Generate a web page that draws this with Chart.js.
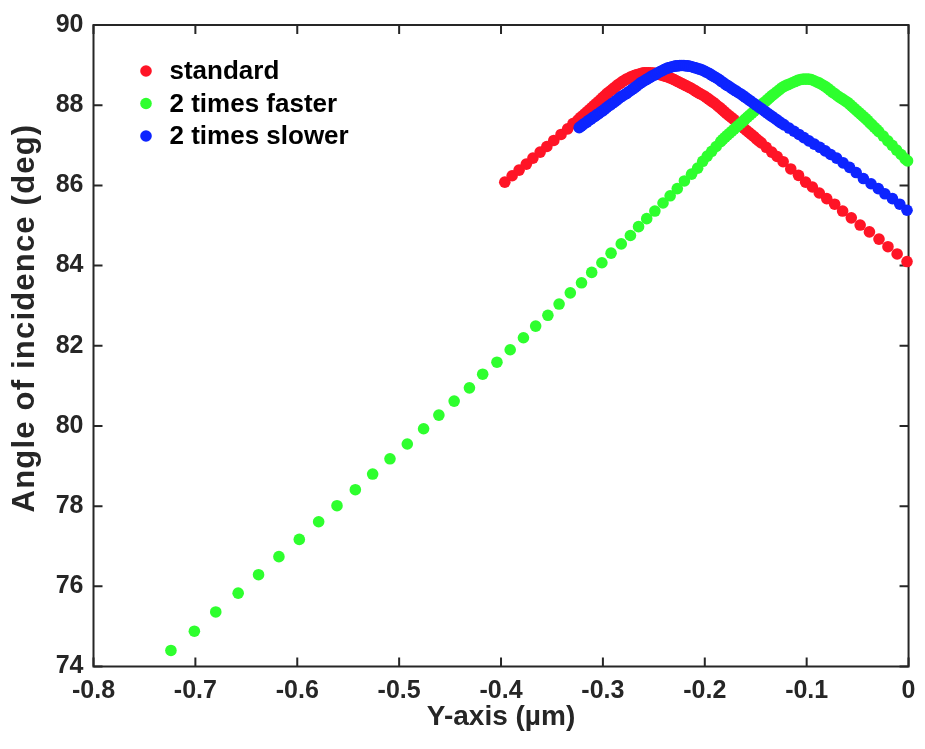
<!DOCTYPE html>
<html>
<head>
<meta charset="utf-8">
<title>Angle of incidence</title>
<script src="https://cdn.jsdelivr.net/npm/chart.js@4.4.1/dist/chart.umd.min.js"></script>
<style>
  html, body { margin: 0; padding: 0; background: #fff; }
  #wrap { width: 925px; height: 749px; }
</style>
</head>
<body>
<div id="wrap"><canvas id="angleChart" width="925" height="749"></canvas></div>
<script>
// axis ticks
const xTicks = [-0.8, -0.7, -0.6, -0.5, -0.4, -0.3, -0.2, -0.1, 0];
const yTicks = [74, 76, 78, 80, 82, 84, 86, 88, 90];

const seriesLabels = ['standard', '2 times faster', '2 times slower'];
const seriesColors = ['#ff1426', '#2eff2e', '#0d24ff'];

// standard
const standardX = [
  -0.3963, -0.3891, -0.3823, -0.3752, -0.3687, -0.3616, -0.3550, -0.3482, -0.3411, -0.3346,
  -0.3294, -0.3246, -0.3222, -0.3197, -0.3175, -0.3153, -0.3131, -0.3109, -0.3088, -0.3066,
  -0.3044, -0.3022, -0.3003, -0.2983, -0.2964, -0.2944, -0.2925, -0.2905, -0.2886, -0.2866,
  -0.2847, -0.2827, -0.2808, -0.2788, -0.2769, -0.2749, -0.2730, -0.2710, -0.2691, -0.2671,
  -0.2652, -0.2632, -0.2613, -0.2594, -0.2575, -0.2555, -0.2536, -0.2516, -0.2497, -0.2477,
  -0.2458, -0.2438, -0.2419, -0.2399, -0.2380, -0.2360, -0.2341, -0.2321, -0.2302, -0.2282,
  -0.2263, -0.2243, -0.2224, -0.2204, -0.2185, -0.2165, -0.2146, -0.2126, -0.2107, -0.2088,
  -0.2069, -0.2049, -0.2027, -0.2005, -0.1983, -0.1961, -0.1939, -0.1917, -0.1895, -0.1873,
  -0.1852, -0.1830, -0.1808, -0.1786, -0.1762, -0.1737, -0.1713, -0.1689, -0.1665, -0.1640,
  -0.1616, -0.1591, -0.1567, -0.1543, -0.1519, -0.1494, -0.1470, -0.1445,
  -0.1397, -0.1343, -0.1290, -0.1231, -0.1156,
  -0.1080, -0.1010, -0.0944, -0.0876, -0.0803, -0.0725, -0.0647, -0.0562, -0.0475,
  -0.0384, -0.0290, -0.0202, -0.0112, -0.0015
];
const standardY = [
  86.08, 86.24, 86.38, 86.53, 86.68, 86.83, 86.97, 87.12, 87.27, 87.41,
  87.54, 87.63, 87.69, 87.74, 87.79, 87.84, 87.89, 87.94, 87.99, 88.04,
  88.09, 88.14, 88.19, 88.23, 88.28, 88.32, 88.36, 88.40, 88.44, 88.48,
  88.52, 88.55, 88.59, 88.62, 88.65, 88.67, 88.70, 88.72, 88.74, 88.76,
  88.77, 88.78, 88.80, 88.81, 88.81, 88.81, 88.81, 88.80, 88.80, 88.79,
  88.78, 88.76, 88.75, 88.73, 88.72, 88.70, 88.68, 88.66, 88.64, 88.61,
  88.59, 88.56, 88.54, 88.51, 88.49, 88.46, 88.44, 88.41, 88.38, 88.35,
  88.32, 88.29, 88.26, 88.23, 88.19, 88.15, 88.11, 88.07, 88.03, 87.98,
  87.94, 87.89, 87.84, 87.79, 87.74, 87.69, 87.64, 87.58, 87.53, 87.48,
  87.43, 87.37, 87.32, 87.27, 87.22, 87.16, 87.11, 87.06,
  86.95, 86.83, 86.72, 86.59, 86.41,
  86.25, 86.08, 85.96, 85.81, 85.67, 85.53, 85.36, 85.19, 85.01,
  84.84, 84.66, 84.47, 84.29, 84.10
];

// 2 times faster
const fasterX = [
  -0.724, -0.701, -0.680, -0.658, -0.638, -0.618, -0.598, -0.579, -0.561, -0.543,
  -0.526, -0.509, -0.492, -0.476, -0.461, -0.446, -0.431, -0.418, -0.404, -0.391,
  -0.378, -0.366, -0.354, -0.343, -0.332, -0.321, -0.311, -0.301, -0.292, -0.282,
  -0.273, -0.265, -0.257, -0.249, -0.241, -0.234, -0.227, -0.220, -0.213, -0.207,
  -0.202, -0.1976, -0.1932, -0.1888,
  -0.1844, -0.1822, -0.1800, -0.1779, -0.1757, -0.1735, -0.1713, -0.1691, -0.1669, -0.1647,
  -0.1625, -0.1604, -0.1582, -0.1560, -0.1538, -0.1516, -0.1494, -0.1472, -0.1450, -0.1428,
  -0.1406, -0.1385, -0.1363, -0.1341, -0.1319, -0.1295, -0.1270, -0.1246, -0.1221, -0.1195,
  -0.1168, -0.1141, -0.1114, -0.1088, -0.1061, -0.1034, -0.1007, -0.0981, -0.0954, -0.0927,
  -0.0900, -0.0874, -0.0847, -0.0820, -0.0793, -0.0769, -0.0745, -0.0721, -0.0696, -0.0672,
  -0.0647, -0.0623, -0.0599, -0.0577, -0.0555, -0.0533, -0.0511, -0.0489, -0.0467, -0.0445,
  -0.0423, -0.0402, -0.0380, -0.0358, -0.0336, -0.0314, -0.0292,
  -0.0248, -0.0204, -0.0161, -0.0117, -0.0073, -0.0034, -0.0010
];
const fasterY = [
  74.40, 74.88, 75.36, 75.83, 76.29, 76.74, 77.17, 77.61, 78.01, 78.41,
  78.80, 79.18, 79.55, 79.93, 80.27, 80.62, 80.95, 81.29, 81.59, 81.90,
  82.20, 82.49, 82.76, 83.04, 83.32, 83.57, 83.83, 84.07, 84.31, 84.54,
  84.75, 84.97, 85.17, 85.36, 85.56, 85.74, 85.92, 86.11, 86.28, 86.43,
  86.60, 86.73, 86.85, 86.97,
  87.09, 87.15, 87.20, 87.25, 87.30, 87.35, 87.40, 87.45, 87.50, 87.55,
  87.60, 87.65, 87.70, 87.75, 87.80, 87.85, 87.90, 87.95, 88.00, 88.05,
  88.09, 88.14, 88.19, 88.24, 88.28, 88.33, 88.38, 88.43, 88.47, 88.50,
  88.53, 88.56, 88.59, 88.62, 88.64, 88.65, 88.65, 88.65, 88.64, 88.61,
  88.58, 88.55, 88.51, 88.47, 88.42, 88.37, 88.32, 88.28, 88.23, 88.19,
  88.15, 88.11, 88.07, 88.02, 87.97, 87.92, 87.87, 87.82, 87.77, 87.72,
  87.67, 87.62, 87.56, 87.51, 87.45, 87.40, 87.34,
  87.23, 87.11, 87.00, 86.88, 86.77, 86.66, 86.61
];

// 2 times slower
const slowerX = [
  -0.3233, -0.3215, -0.3197, -0.3178, -0.3158, -0.3139, -0.3119, -0.3100, -0.3080, -0.3061,
  -0.3041, -0.3022, -0.3002, -0.2983, -0.2964, -0.2945, -0.2925, -0.2906, -0.2886, -0.2867,
  -0.2847, -0.2828, -0.2808, -0.2789, -0.2769, -0.2750, -0.2730, -0.2711, -0.2691, -0.2672,
  -0.2652, -0.2633, -0.2613, -0.2594, -0.2574, -0.2555, -0.2535, -0.2516, -0.2496, -0.2477,
  -0.2457, -0.2438, -0.2418, -0.2399, -0.2380, -0.2361, -0.2341, -0.2322, -0.2302, -0.2283,
  -0.2263, -0.2244, -0.2224, -0.2205, -0.2185, -0.2166, -0.2146, -0.2127, -0.2107, -0.2088,
  -0.2068, -0.2049, -0.2029, -0.2010, -0.1990, -0.1971, -0.1951, -0.1932, -0.1912, -0.1893,
  -0.1873, -0.1854, -0.1835, -0.1816, -0.1796, -0.1777, -0.1757, -0.1735, -0.1713, -0.1691,
  -0.1669, -0.1647, -0.1625, -0.1604, -0.1582, -0.1560, -0.1538, -0.1516, -0.1494, -0.1472,
  -0.1450, -0.1428, -0.1406, -0.1385, -0.1363, -0.1341, -0.1319, -0.1295, -0.1270, -0.1246,
  -0.1221,
  -0.1173, -0.1124, -0.1075, -0.1027, -0.0978, -0.0925, -0.0871, -0.0818, -0.0764,
  -0.0706, -0.0642, -0.0579, -0.0514, -0.0443, -0.0368, -0.0297, -0.0232, -0.0158, -0.0086,
  -0.0015
];
const slowerY = [
  87.44, 87.48, 87.51, 87.55, 87.58, 87.62, 87.65, 87.69, 87.72, 87.76,
  87.79, 87.83, 87.86, 87.90, 87.94, 87.98, 88.01, 88.05, 88.08, 88.12,
  88.16, 88.20, 88.23, 88.26, 88.29, 88.33, 88.36, 88.40, 88.43, 88.47,
  88.51, 88.55, 88.58, 88.61, 88.64, 88.67, 88.70, 88.73, 88.75, 88.78,
  88.81, 88.84, 88.86, 88.89, 88.91, 88.93, 88.94, 88.96, 88.97, 88.98,
  88.98, 88.99, 88.99, 88.99, 88.98, 88.98, 88.97, 88.96, 88.94, 88.93,
  88.91, 88.90, 88.88, 88.86, 88.83, 88.81, 88.78, 88.75, 88.72, 88.69,
  88.66, 88.63, 88.59, 88.56, 88.52, 88.49, 88.46, 88.42, 88.38, 88.35,
  88.31, 88.28, 88.24, 88.20, 88.16, 88.12, 88.08, 88.04, 88.00, 87.96,
  87.92, 87.88, 87.84, 87.80, 87.76, 87.72, 87.68, 87.64, 87.59, 87.55,
  87.51,
  87.43, 87.35, 87.27, 87.19, 87.11, 87.03, 86.95, 86.86, 86.77,
  86.68, 86.56, 86.45, 86.32, 86.17, 86.04, 85.92, 85.79, 85.67, 85.53,
  85.38
];

const FONT = '"Liberation Sans", Arial, Helvetica, sans-serif';
const INK = '#262626';
const DOT = 5.8;

const toPoints = (xs, ys) => xs.map((x, i) => ({ x: x, y: ys[i] }));

const makeSet = (i, xs, ys) => ({
  label: seriesLabels[i],
  data: toPoints(xs, ys),
  backgroundColor: seriesColors[i],
  borderWidth: 0,
  pointRadius: DOT,
  pointHoverRadius: DOT,
  pointBorderWidth: 0,
  clip: false,
  order: 3 - i   // later series sit on top
});

// box round the plot with inward tick marks on all four sides
const axesBox = {
  id: 'axesBox',
  beforeDatasetsDraw(chart) {
    const { ctx, chartArea: a, scales: { x, y } } = chart;
    const len = 9;
    ctx.save();
    ctx.strokeStyle = INK;
    ctx.lineWidth = 2;
    ctx.beginPath();
    xTicks.forEach(v => {
      const px = x.getPixelForValue(v);
      ctx.moveTo(px, a.bottom); ctx.lineTo(px, a.bottom - len);
      ctx.moveTo(px, a.top); ctx.lineTo(px, a.top + len);
    });
    yTicks.forEach(v => {
      const py = y.getPixelForValue(v);
      ctx.moveTo(a.left, py); ctx.lineTo(a.left + len, py);
      ctx.moveTo(a.right, py); ctx.lineTo(a.right - len, py);
    });
    ctx.stroke();
    ctx.strokeRect(a.left, a.top, a.right - a.left, a.bottom - a.top);
    ctx.restore();
  }
};

// y axis title, drawn by hand so its size and spacing can be set freely
const yTitle = {
  id: 'yTitle',
  afterDraw(chart) {
    const { ctx, chartArea: a } = chart;
    ctx.save();
    ctx.translate(25, a.top + 293);
    ctx.rotate(-Math.PI / 2);
    ctx.font = 'bold 31px ' + FONT;
    ctx.letterSpacing = '1.2px';
    ctx.fillStyle = INK;
    ctx.textAlign = 'center';
    ctx.textBaseline = 'middle';
    ctx.fillText('Angle of incidence (deg)', 0, 0);
    ctx.restore();
  }
};

// legend in the upper left corner of the plot
const cornerLegend = {
  id: 'cornerLegend',
  afterDraw(chart) {
    const { ctx, chartArea: a } = chart;
    ctx.save();
    ctx.font = 'bold 26px ' + FONT;
    ctx.textBaseline = 'middle';
    ctx.textAlign = 'left';
    chart.data.datasets.forEach((ds, i) => {
      const cy = a.top + 46 + i * 32.5;
      ctx.fillStyle = ds.backgroundColor;
      ctx.beginPath();
      ctx.arc(a.left + 52.5, cy, DOT, 0, Math.PI * 2);
      ctx.fill();
      ctx.fillStyle = '#000';
      ctx.fillText(ds.label, a.left + 76, cy + 1);
    });
    ctx.restore();
  }
};

new Chart(document.getElementById('angleChart'), {
  type: 'scatter',
  data: {
    datasets: [
      makeSet(0, standardX, standardY),
      makeSet(1, fasterX, fasterY),
      makeSet(2, slowerX, slowerY)
    ]
  },
  options: {
    responsive: false,
    animation: false,
    events: [],
    layout: { padding: { top: 20, right: 9.5, left: 0, bottom: 0 } },
    plugins: {
      legend: { display: false },
      tooltip: { enabled: false }
    },
    scales: {
      x: {
        type: 'linear',
        min: -0.8,
        max: 0,
        afterBuildTicks: s => { s.ticks = xTicks.map(v => ({ value: v })); },
        afterFit: s => { s.height = 82.5; },
        grid: { display: false, drawTicks: false },
        border: { display: false },
        ticks: {
          color: INK,
          padding: 9.5,
          maxRotation: 0,
          autoSkip: false,
          font: { family: FONT, size: 25, weight: 'bold' },
          callback: v => String(Math.round(v * 10) / 10)
        },
        title: {
          display: true,
          text: 'Y-axis (µm)',
          color: INK,
          padding: { top: 0, bottom: 15 },
          font: { family: FONT, size: 28, weight: 'bold' }
        }
      },
      y: {
        type: 'linear',
        min: 74,
        max: 90,
        afterBuildTicks: s => { s.ticks = yTicks.map(v => ({ value: v })); },
        afterFit: s => { s.width = 93.5; },
        grid: { display: false, drawTicks: false },
        border: { display: false },
        ticks: {
          color: INK,
          padding: 10,
          font: { family: FONT, size: 25, weight: 'bold' }
        },
        title: { display: false }
      }
    }
  },
  plugins: [axesBox, yTitle, cornerLegend]
});
</script>
</body>
</html>
